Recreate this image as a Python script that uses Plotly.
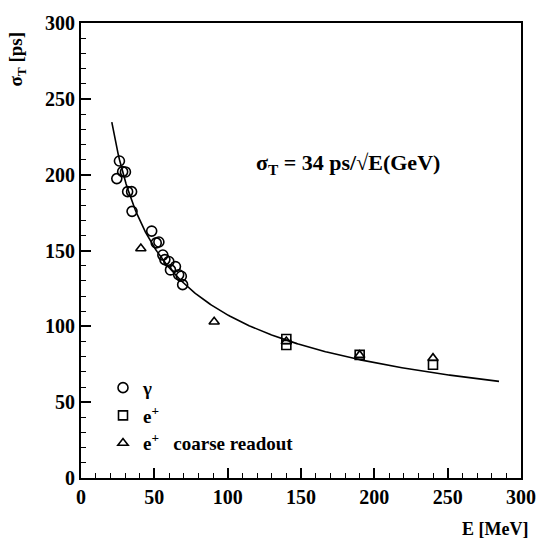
import numpy as np
import plotly.graph_objects as go

# gamma (circles)
gamma_E = [24.4, 26.2, 28.4, 30.3, 31.8, 34.5, 34.8, 48.2, 51.3, 53.1, 55.8, 57.2,
           59.9, 61.0, 64.4, 66.6, 68.4, 69.3]
gamma_sigma = [197.4, 209.0, 202.0, 201.8, 188.8, 188.8, 175.8, 162.8, 155.0, 155.6,
               147.0, 144.0, 142.7, 137.2, 139.4, 134.0, 133.0, 127.5]
# e+ (squares)
ep_E = [140, 140, 190, 240]
ep_sigma = [91.6, 87.7, 81.2, 74.7]
# e+ coarse readout (triangles)
coarse_E = [40.8, 90.8, 140, 190, 240]
coarse_sigma = [151.3, 103.0, 90.0, 81.0, 79.0]

# fit: sigma_T = 34 ps / sqrt(E[GeV])
fit_coef = 34.0
fit_E = np.linspace(21, 285, 300)
fit_sigma = fit_coef / np.sqrt(fit_E / 1000.0)

FONT = "Liberation Serif"

fig = go.Figure()
fig.add_trace(go.Scatter(x=fit_E, y=fit_sigma, mode="lines",
                         line=dict(color="black", width=1.6), showlegend=False,
                         hoverinfo="skip"))
fig.add_trace(go.Scatter(x=gamma_E, y=gamma_sigma, mode="markers", name="γ",
                         marker=dict(symbol="circle-open", size=10, color="black",
                                     line=dict(width=1.6, color="black"))))
fig.add_trace(go.Scatter(x=ep_E, y=ep_sigma, mode="markers", name="e<sup>+</sup>",
                         marker=dict(symbol="square-open", size=9, color="black",
                                     line=dict(width=1.6, color="black"))))
fig.add_trace(go.Scatter(x=coarse_E, y=coarse_sigma, mode="markers",
                         name="e<sup>+</sup>   coarse readout",
                         marker=dict(symbol="triangle-up-open", size=9, color="black",
                                     line=dict(width=1.6, color="black"))))

axis_common = dict(
    showline=True, linecolor="black", linewidth=2, mirror=True,
    ticks="inside", ticklen=10, tickwidth=1.5, tickcolor="black",
    showgrid=False, zeroline=False,
    tickfont=dict(family=FONT, size=20, color="black", weight="bold"),
    minor=dict(ticks="inside", ticklen=5, tickwidth=1, tickcolor="black", dtick=10),
)

fig.update_xaxes(range=[0, 300], dtick=50, **axis_common)
fig.update_yaxes(range=[0, 300], dtick=50, **axis_common)

fig.update_layout(
    width=548, height=540,
    margin=dict(l=81, r=21, t=16, b=62),
    paper_bgcolor="white", plot_bgcolor="white",
    font=dict(family=FONT, color="black"),
    legend=dict(x=0.05, y=0.24, xanchor="left", yanchor="top",
                bgcolor="rgba(0,0,0,0)", itemwidth=30, tracegroupgap=0,
                font=dict(family=FONT, size=19, color="black", weight="bold")),
    annotations=[
        dict(text="σ<sub>T</sub> = 34 ps/√E(GeV)", xref="paper", yref="paper",
             x=0.393, y=0.69, xanchor="left", yanchor="middle", showarrow=False,
             font=dict(family=FONT, size=22, color="black", weight="bold")),
        dict(text="E [MeV]", xref="paper", yref="paper", x=1.02, y=-0.085,
             xanchor="right", yanchor="top", showarrow=False,
             font=dict(family=FONT, size=18, color="black", weight="bold")),
        dict(text="σ<sub>T</sub> [ps]", xref="paper", yref="paper", x=-0.145, y=0.985,
             xanchor="center", yanchor="top", textangle=-90, showarrow=False,
             font=dict(family=FONT, size=19, color="black", weight="bold")),
    ],
)

fig.write_html("out.html", config={"displayModeBar": False},
               post_script="document.body.style.margin='0px';")
